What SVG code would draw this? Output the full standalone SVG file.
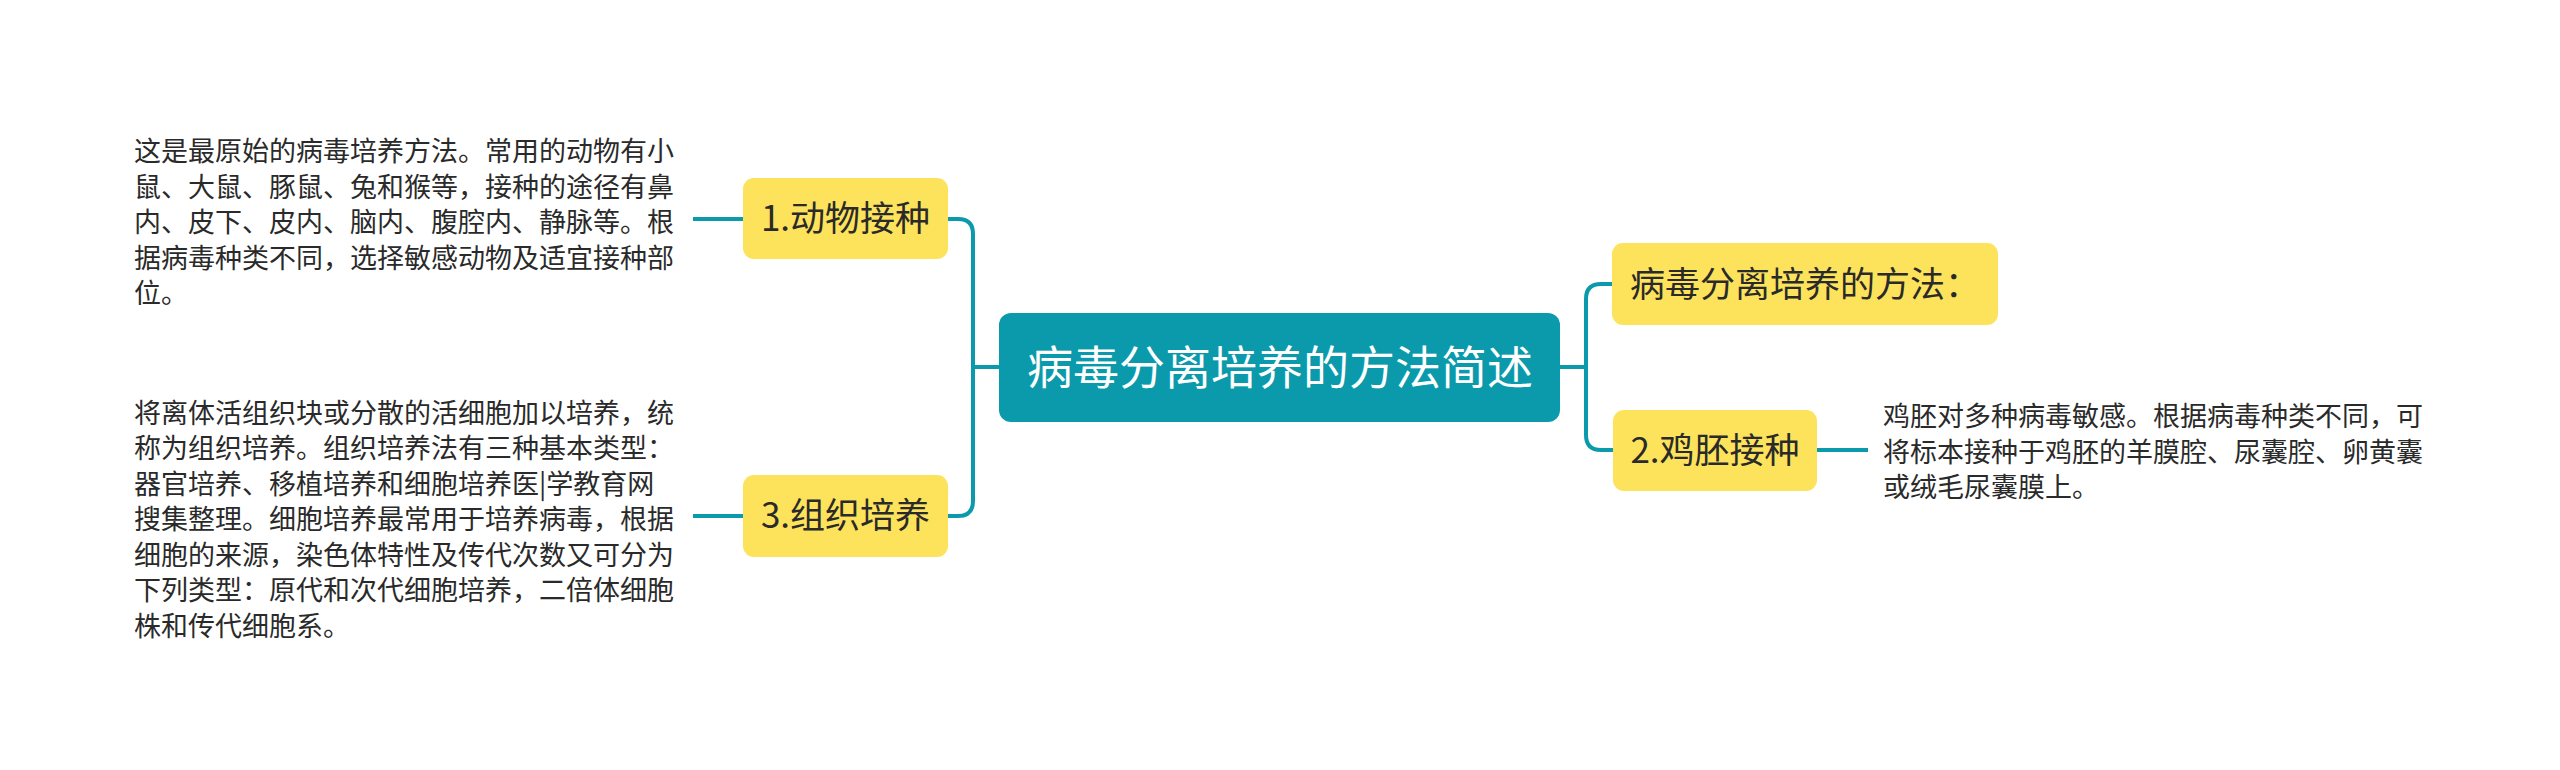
<svg xmlns="http://www.w3.org/2000/svg" width="2560" height="770" viewBox="0 0 2560 770">
<style>
.bg{fill:#ffffff}
.root{fill:#0a9aab}
.sub{fill:#fde35b}
.rt{font-family:"Noto Sans CJK SC","Noto Sans",sans-serif;font-size:46px;fill:#ffffff;text-anchor:middle}
.st{font-family:"Noto Sans CJK SC","Noto Sans",sans-serif;font-size:35px;fill:#2a2a2a;text-anchor:middle}
.lt{font-family:"Noto Sans CJK SC","Noto Sans",sans-serif;font-size:27px;fill:#2a2a2a}
.ln{fill:none;stroke:#0a9aab;stroke-width:4;stroke-linecap:butt}
</style>
<rect class="bg" x="0" y="0" width="2560" height="770"/>
<g id="connectors">
<path class="ln" d="M999,367 H973"/>
<path class="ln" d="M948,219 H958 Q973,219 973,234 V501 Q973,516 958,516 H948"/>
<path class="ln" d="M743,219 H693"/>
<path class="ln" d="M743,516 H693"/>
<path class="ln" d="M1560,367 H1586"/>
<path class="ln" d="M1613,284 H1601 Q1586,284 1586,299 V435 Q1586,450 1601,450 H1613"/>
<path class="ln" d="M1817,450 H1868"/>
</g>
<g id="root">
<rect class="root" x="999" y="313" width="561" height="109" rx="12"/>
<text class="rt" x="1280" y="384">病毒分离培养的方法简述</text>
</g>
<g id="node-animal">
<rect class="sub" x="743" y="178" width="205" height="81" rx="11"/>
<text class="st" x="845.5" y="231">1.动物接种</text>
</g>
<g id="node-tissue">
<rect class="sub" x="743" y="475" width="205" height="82" rx="11"/>
<text class="st" x="845.5" y="528">3.组织培养</text>
</g>
<g id="node-methods">
<rect class="sub" x="1612" y="243" width="386" height="82" rx="11"/>
<text class="st" x="1805" y="297">病毒分离培养的方法：</text>
</g>
<g id="node-egg">
<rect class="sub" x="1613" y="410" width="204" height="81" rx="11"/>
<text class="st" x="1715" y="463">2.鸡胚接种</text>
</g>
<g id="leaf-animal">
<text class="lt" x="134" y="161">这是最原始的病毒培养方法。常用的动物有小</text>
<text class="lt" x="134" y="196.5">鼠、大鼠、豚鼠、兔和猴等，接种的途径有鼻</text>
<text class="lt" x="134" y="232">内、皮下、皮内、脑内、腹腔内、静脉等。根</text>
<text class="lt" x="134" y="267.5">据病毒种类不同，选择敏感动物及适宜接种部</text>
<text class="lt" x="134" y="303">位。</text>
</g>
<g id="leaf-tissue">
<text class="lt" x="134" y="422.5">将离体活组织块或分散的活细胞加以培养，统</text>
<text class="lt" x="134" y="458">称为组织培养。组织培养法有三种基本类型：</text>
<text class="lt" x="134" y="493.5">器官培养、移植培养和细胞培养医|学教育网</text>
<text class="lt" x="134" y="529">搜集整理。细胞培养最常用于培养病毒，根据</text>
<text class="lt" x="134" y="564.5">细胞的来源，染色体特性及传代次数又可分为</text>
<text class="lt" x="134" y="600">下列类型：原代和次代细胞培养，二倍体细胞</text>
<text class="lt" x="134" y="635.5">株和传代细胞系。</text>
</g>
<g id="leaf-egg">
<text class="lt" x="1883" y="426">鸡胚对多种病毒敏感。根据病毒种类不同，可</text>
<text class="lt" x="1883" y="461.5">将标本接种于鸡胚的羊膜腔、尿囊腔、卵黄囊</text>
<text class="lt" x="1883" y="497">或绒毛尿囊膜上。</text>
</g>
</svg>
